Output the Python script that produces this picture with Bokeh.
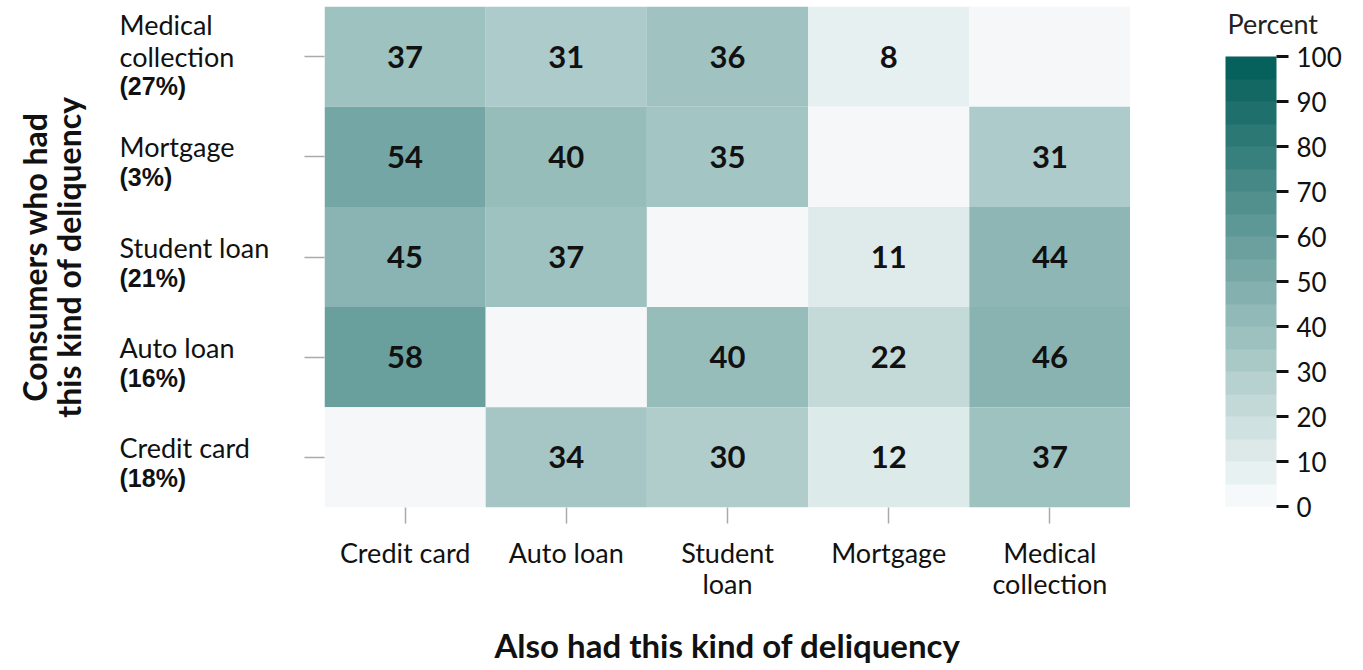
import math
import numpy as np
from bokeh.plotting import figure
from bokeh.layouts import row
from bokeh.models import (ColumnDataSource, LinearColorMapper, ColorBar, FixedTicker,
                          FactorRange, Range1d)
from bokeh.core.properties import value
from bokeh.transform import transform
from bokeh.embed import file_html
from bokeh.resources import INLINE

# ---- data ----
col_categories = ["Credit card", "Auto loan", "Student loan", "Mortgage", "Medical collection"]
col_tick_labels = ["Credit card", "Auto loan", "Student\nloan", "Mortgage", "Medical\ncollection"]
row_categories = ["Medical collection", "Mortgage", "Student loan", "Auto loan", "Credit card"]
row_label_names = ["Medical\ncollection", "Mortgage", "Student loan", "Auto loan", "Credit card"]
row_shares = [27, 3, 21, 16, 18]
nan = float("nan")
values_medical = [37, 31, 36, 8, nan]
values_mortgage = [54, 40, 35, nan, 31]
values_student = [45, 37, nan, 11, 44]
values_auto = [58, nan, 40, 22, 46]
values_credit = [nan, 34, 30, 12, 37]
matrix = [values_medical, values_mortgage, values_student, values_auto, values_credit]
colorbar_ticks = list(range(0, 101, 10))
colorbar_title = "Percent"
x_title = "Also had this kind of deliquency"
y_title = "Consumers who had\nthis kind of deliquency"

# ---- palette (style) ----
def interp(c0, c1, t):
    a = [int(c0[i:i + 2], 16) for i in (1, 3, 5)]
    b = [int(c1[i:i + 2], 16) for i in (1, 3, 5)]
    return "#%02x%02x%02x" % tuple(round(a[k] + (b[k] - a[k]) * t) for k in range(3))

LO, HI = "#fbfdfd", "#005c58"
palette_cont = [interp(LO, HI, i / 255) for i in range(256)]
palette_bins = [interp(LO, HI, (i + 0.5) / 20) for i in range(20)]

col_factor = dict(zip(col_categories, col_tick_labels))
xs, ys, vs = [], [], []
for r, vals in zip(row_categories, matrix):
    for c, v in zip(col_categories, vals):
        xs.append(col_factor[c]); ys.append(r); vs.append(v)
cells = ColumnDataSource(dict(x=xs, y=ys, v=np.array(vs, dtype=float)))
tx = [x for x, v in zip(xs, vs) if v == v]
ty = [y for y, v in zip(ys, vs) if v == v]
tt = ["%d" % v for v in vs if v == v]
texts = ColumnDataSource(dict(x=tx, y=ty, t=tt))

FONT = "Lato"
TXT = "#111111"
H = 670
TOP = 6
BOTTOM = 163
LEFT_W = 304
MAIN_W = 826
RIGHT_W = 1363 - LEFT_W - MAIN_W
y_range = FactorRange(*row_categories[::-1])

# ---- left panel: row labels + y title ----
L = figure(width=LEFT_W, height=H, x_range=Range1d(0, LEFT_W), y_range=y_range,
           toolbar_location=None, output_backend="svg", x_axis_location=None,
           y_axis_location=None, min_border_left=0, min_border_right=0,
           min_border_top=TOP, min_border_bottom=BOTTOM)
L.outline_line_color = None
L.grid.grid_line_color = None
n_lines = [name.count("\n") + 1 for name in row_label_names]
lab_src = ColumnDataSource(dict(
    x=[119] * 5, y=row_categories,
    name=[name + "\n" for name in row_label_names],
    share=["\n" * n + "(%d%%)" % s for n, s in zip(n_lines, row_shares)],
    dy=[0 if n > 1 else 6 for n in n_lines]))
L.text(x="x", y="y", text="name", source=lab_src, y_offset="dy", text_align="left",
       text_baseline="middle", text_font=value(FONT), text_font_size="27px",
       text_color=TXT, text_line_height=0.96)
L.text(x="x", y="y", text="share", source=lab_src, y_offset="dy", text_align="left",
       text_baseline="middle", text_font=value("Liberation Sans"), text_font_size="25px",
       text_font_style="bold", text_color=TXT, text_line_height=1.04)
L.text(x=[51], y=[2.5], text=[y_title], angle=math.pi / 2, text_align="center",
       text_baseline="middle", text_font=value(FONT), text_font_size="32px",
       text_font_style="bold", text_color=TXT, text_line_height=0.87)

# ---- main heatmap ----
M = figure(width=MAIN_W, height=H, x_range=FactorRange(*col_tick_labels), y_range=y_range,
           toolbar_location=None, output_backend="svg",
           min_border_left=0, min_border_right=0, min_border_top=TOP, min_border_bottom=BOTTOM)
M.outline_line_color = None
M.grid.grid_line_color = None
mapper = LinearColorMapper(palette=palette_cont, low=0, high=100, nan_color="#f5f7f9")
M.rect(x="x", y="y", width=1, height=1, source=cells,
       fill_color=transform("v", mapper), line_color=None)
M.text(x="x", y="y", text="t", source=texts, text_align="center", text_baseline="middle",
       text_font_size="31px", text_font_style="bold", text_color=TXT,
       text_font=value(FONT))

xa = M.xaxis[0]
xa.axis_line_color = None
xa.major_tick_line_color = "#aaaaaa"
xa.major_tick_line_width = 1.5
xa.major_tick_out = 16
xa.major_tick_in = 0
xa.major_label_standoff = 12
xa.major_label_text_font = FONT
xa.major_label_text_font_size = "27px"
xa.major_label_text_color = TXT
xa.major_label_text_line_height = 0.96
xa.axis_label = x_title
xa.axis_label_text_font = FONT
xa.axis_label_text_font_size = "33px"
xa.axis_label_text_font_style = "bold"
xa.axis_label_text_color = TXT
xa.axis_label_standoff = 22

ya = M.yaxis[0]
ya.axis_line_color = None
ya.major_tick_line_color = "#aaaaaa"
ya.major_tick_line_width = 1.5
ya.major_tick_out = 20
ya.major_tick_in = 0
ya.major_label_standoff = 0
ya.major_label_text_font_size = "0px"
ya.major_label_text_color = None

# ---- colour bar panel ----
CB_LEFT = 95
CB_MARGIN = 50
R_BORDER = CB_LEFT - CB_MARGIN
R = figure(width=RIGHT_W, height=H, x_range=Range1d(0, RIGHT_W - R_BORDER),
           y_range=Range1d(0, H),
           toolbar_location=None, output_backend="svg", x_axis_location=None,
           y_axis_location=None, min_border_left=R_BORDER, min_border_right=0,
           min_border_top=0, min_border_bottom=0)
R.outline_line_color = None
R.grid.grid_line_color = None
cb_mapper = LinearColorMapper(palette=palette_bins, low=0, high=100)
cb = ColorBar(color_mapper=cb_mapper, ticker=FixedTicker(ticks=colorbar_ticks),
              orientation="vertical",
              width=51, height=450, padding=0, margin=CB_MARGIN, location="top_left",
              major_label_text_font=FONT, major_label_text_font_size="26px",
              major_label_text_color=TXT, label_standoff=8,
              major_tick_out=12, major_tick_in=0, major_tick_line_color=TXT,
              major_tick_line_width=3, bar_line_color=None, border_line_color=None,
              background_fill_alpha=0)
R.add_layout(cb, "center")
R.text(x=[CB_LEFT - R_BORDER + 2], y=[H - 23], text=[colorbar_title], text_align="left",
       text_baseline="middle", text_font=value(FONT), text_font_size="27px",
       text_color="#222222")

layout = row(L, M, R, spacing=0)
open("out.html", "w").write(file_html(layout, INLINE))
